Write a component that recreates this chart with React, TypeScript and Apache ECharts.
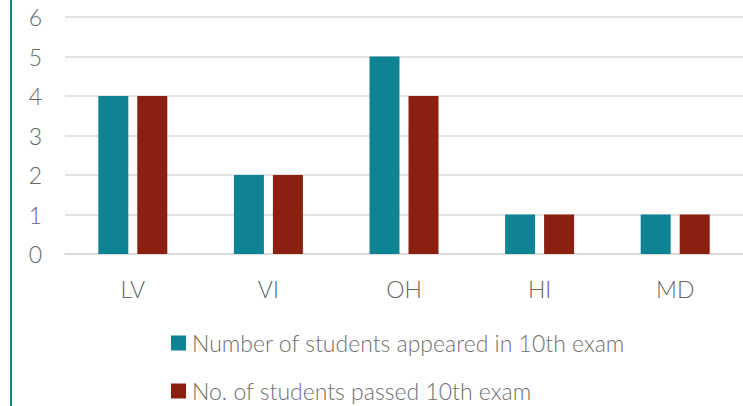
import React, { useEffect, useRef } from "react";
import * as echarts from "echarts";

const categories = ["LV", "VI", "OH", "HI", "MD"];
const appeared = [4, 2, 5, 1, 1];
const passed = [4, 2, 4, 1, 1];
const seriesNames = ["Number of students appeared in 10th exam", "No. of students passed 10th exam"];

export default function App() {
  const ref = useRef<HTMLDivElement>(null);
  useEffect(() => {
    document.body.style.margin = "0";
    const chart = echarts.init(ref.current!, null, { renderer: "svg" });
    const font = "Lato, 'Open Sans', sans-serif";
    const legendText = { color: "#6f6f6f", fontSize: 23, fontFamily: font, fontWeight: 300, lineHeight: 26, padding: [0, 0, 0, 1] };
    chart.setOption({
      animation: false,
      backgroundColor: "#ffffff",
      grid: { left: 65, right: 0, top: 17, bottom: 152 },
      xAxis: {
        type: "category",
        data: categories,
        axisLine: { show: true, lineStyle: { color: "#d9d9d9", width: 1.5 } },
        axisTick: { show: false },
        axisLabel: { color: "#666666", fontSize: 23, fontFamily: font, fontWeight: 300, margin: 23 },
      },
      yAxis: {
        type: "value",
        min: 0,
        max: 6,
        interval: 1,
        axisLine: { show: false },
        axisTick: { show: false },
        splitLine: { lineStyle: { color: "#d9d9d9", width: 1.5 } },
        axisLabel: { color: "#666666", fontSize: 23, fontFamily: font, fontWeight: 300, margin: 23 },
      },
      legend: [
        {
          left: 166,
          top: 325,
          itemWidth: 15,
          itemHeight: 15,
          icon: "rect",
          textStyle: legendText,
          data: [seriesNames[0]],
        },
        {
          left: 166,
          top: 373,
          itemWidth: 15,
          itemHeight: 15,
          icon: "rect",
          textStyle: legendText,
          data: [seriesNames[1]],
        },
      ],
      graphic: [
        {
          type: "rect",
          left: 10,
          top: 0,
          shape: { width: 2, height: 406 },
          style: { fill: "#0E8394" },
        },
      ],
      series: [
        {
          name: seriesNames[0],
          type: "bar",
          data: appeared,
          barWidth: 30,
          barGap: "30%",
          itemStyle: { color: "#0E8394" },
        },
        {
          name: seriesNames[1],
          type: "bar",
          data: passed,
          barWidth: 30,
          itemStyle: { color: "#8B2011" },
        },
      ],
    });
    return () => chart.dispose();
  }, []);
  return <div ref={ref} style={{ position: "absolute", left: 0, top: 0, width: 743, height: 406 }} />;
}
